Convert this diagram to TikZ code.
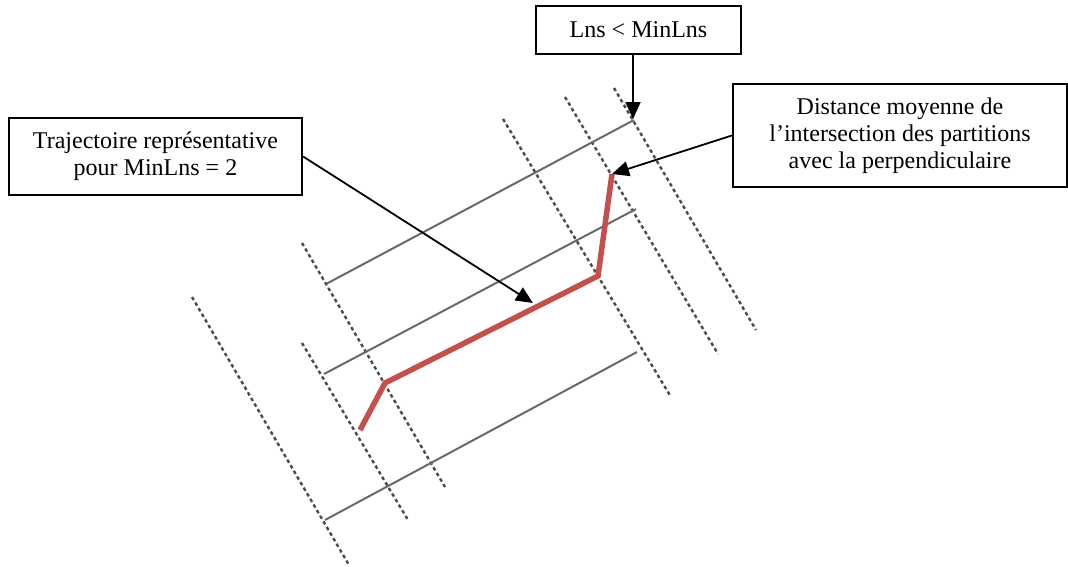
\documentclass[tikz,border=0pt]{standalone}
\usepackage{fontspec}
\setmainfont{Liberation Serif}
\usetikzlibrary{arrows.meta}
\definecolor{trajred}{RGB}{196,80,77}
\definecolor{segline}{RGB}{105,105,105}
\definecolor{perpline}{RGB}{75,75,75}
\tikzset{
  labelbox/.style={draw=black, line width=2.2pt, fill=white, align=center, inner sep=0pt,
    font=\fontsize{24}{27}\selectfont},
  pointer/.style={draw=black, line width=1.8pt, -{Triangle[length=17pt,width=15pt]}},
  segment/.style={draw=segline, line width=2pt},
  perp/.style={draw=perpline, line width=2.4pt, dash pattern=on 3.5pt off 3pt},
  traj/.style={draw=trajred, line width=5.5pt, line join=miter, line cap=butt}
}
\begin{document}
\begin{tikzpicture}[x=1pt,y=-1pt]
\useasboundingbox (0,0) rectangle (1068,566);
% dashed perpendiculars
\coordinate (d1a) at (192,297); \coordinate (d1b) at (349,565);
\coordinate (d2a) at (302,343); \coordinate (d2b) at (408,520);
\coordinate (d3a) at (302,243); \coordinate (d3b) at (445,487);
\coordinate (d4a) at (503,119); \coordinate (d4b) at (671,397);
\coordinate (d5a) at (565,97);  \coordinate (d5b) at (718,354);
\coordinate (d6a) at (614,88);  \coordinate (d6b) at (756,330);
\foreach \i in {1,...,6} { \draw[perp] (d\i a) -- (d\i b); }
% solid segments
\coordinate (s1a) at (326,284); \coordinate (s1b) at (634,120);
\coordinate (s2a) at (324,374); \coordinate (s2b) at (636,209);
\coordinate (s3a) at (325,520); \coordinate (s3b) at (637,352);
\foreach \i in {1,2,3} { \draw[segment] (s\i a) -- (s\i b); }
% representative trajectory
\coordinate (r1) at (360,430);
\coordinate (r2) at (385,383);
\coordinate (r3) at (598,276);
\coordinate (r4) at (612,174);
\draw[traj] (r1) -- (r2) -- (r3) -- (r4);
% label boxes
\node[labelbox, minimum width=205pt, minimum height=48pt] (box1) at (638.5,30) {Lns < MinLns};
\node[labelbox, minimum width=293pt, minimum height=77pt] (box2) at (155.5,156.5) {Trajectoire représentative\\pour MinLns = 2};
\node[labelbox, minimum width=334pt, minimum height=103pt] (box3) at (900,135.5) {Distance moyenne de\\l’intersection des partitions\\avec la perpendiculaire};
% pointers
\coordinate (t1) at (533,303);
\coordinate (b1) at (633,54);
\coordinate (t3) at (633,119);
\draw[pointer] (box2.east) -- (t1);
\draw[pointer] (box3.west) -- (r4);
\draw[pointer] (b1) -- (t3);
\end{tikzpicture}
\end{document}
